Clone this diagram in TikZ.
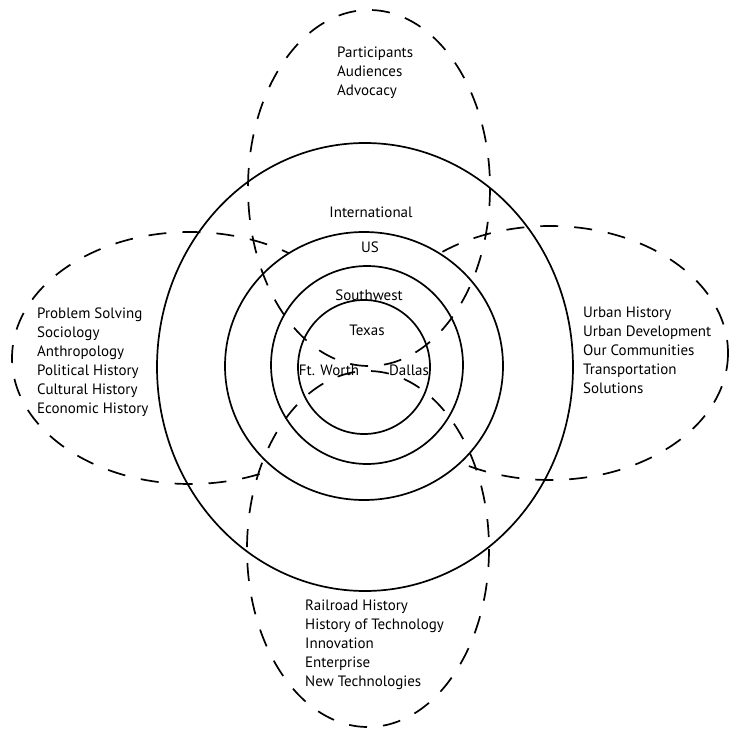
\documentclass[tikz,border=0pt]{standalone}
\usepackage{fontspec}
\setmainfont{PT Sans}
\usepackage{tikz}

\begin{document}
\begin{tikzpicture}[x=1pt,y=-1pt,
        ring/.style={line width=1.7pt},
        zone/.style={line width=1.7pt, dash pattern=on 18pt off 16pt},
        label/.style={font=\fontsize{15}{19}\selectfont, inner sep=0pt, align=left}]
            \useasboundingbox                                   (0,0) rectangle (737,738);
            \draw[zone]                                         (190,358) ellipse (178 and 126);
            \draw[zone]                                         (550,353) ellipse (178 and 127);
            \fill[white]                                        (364,366) ellipse (139 and 134);
            \draw[zone]                                         (369,188) ellipse (121 and 178);
            \draw[zone]                                         (368,549) ellipse (121 and 178);
            \draw[ring]                                         (365,367) ellipse (208 and 224);
            \draw[ring]                                         (364,366) ellipse (139 and 134);
            \draw[ring]                                         (367,365) ellipse (96 and 99);
            \draw[ring]                                         (364,367) ellipse (66 and 67);
            \node[label]               (international) at (371,212) {International};
            \node[label]               (us)            at (370,247) {US};
            \node[label]               (southwest)     at (369,295) {Southwest};
            \node[label]               (texas)         at (367,330) {Texas};
            \node[label]               (ftworth)       at (329,370) {Ft. Worth};
            \node[label]               (dallas)        at (409,370) {Dallas};
            \node[label, anchor=west]  (people)        at (337,73)  {Participants\\Audiences\\Advocacy};
            \node[label, anchor=west]  (disciplines)   at (37,362)  {Problem Solving\\Sociology\\Anthropology\\Political History\\Cultural History\\Economic History};
            \node[label, anchor=west]  (urban)         at (583,350) {Urban History\\Urban Development\\Our Communities\\Transportation\\Solutions};
            \node[label, anchor=west]  (technology)    at (305,645) {Railroad History\\History of Technology\\Innovation\\Enterprise\\New Technologies};
\end{tikzpicture}
\end{document}
